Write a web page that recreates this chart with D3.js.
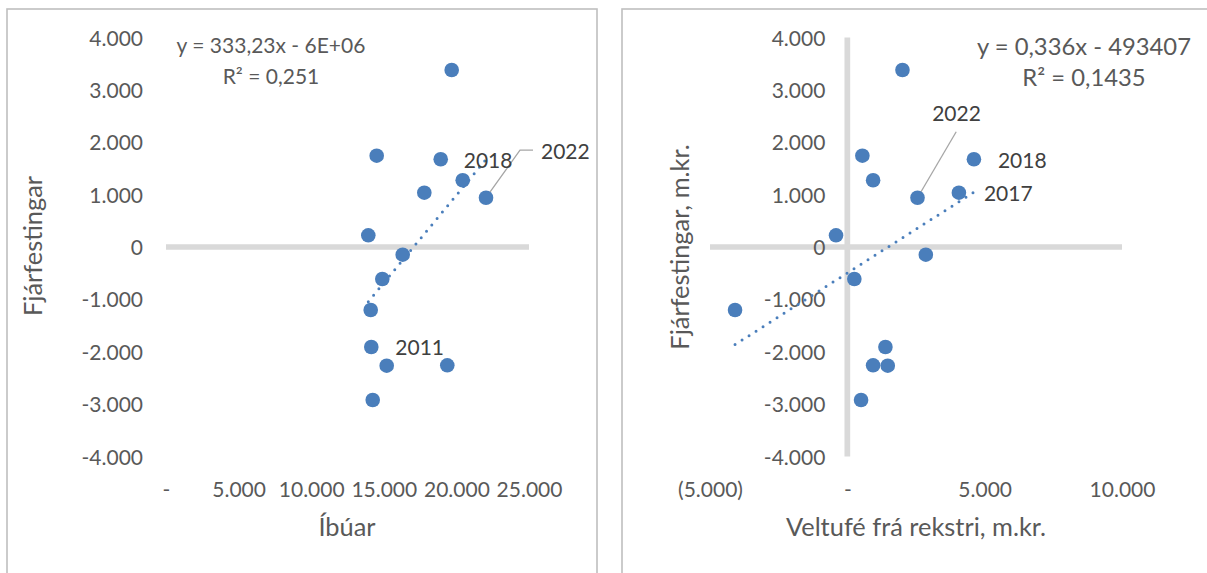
<!DOCTYPE html>
<html>
<head>
<meta charset="utf-8">
<script src="https://cdn.jsdelivr.net/npm/d3@7/dist/d3.min.js"></script>
<style>
  html, body { margin: 0; padding: 0; background: #fff; }
  svg { display: block; font-family: Lato, "Open Sans", sans-serif; }
</style>
</head>
<body>
<svg id="chart" width="1207" height="573"></svg>
<script>
// ---------- DATA ----------
const pointLabels   = ["", "", "2018", "", "2017", "2022", "", "", "", "", "2011", "", "", ""];
const ibuar         = [19676, 14511, 18919, 20434, 17789, 22039, 13933, 16302, 14897, 14098, 14139, 15200, 19373, 14236];
const veltufe       = [2007, 547, 4609, 938, 4062, 2555, -412, 2858, 255, -4088, 1387, 1471, 938, 500];
const fjarfestingar = [3380, 1743, 1675, 1274, 1037, 941, 223, -147, -611, -1203, -1909, -2266, -2259, -2921];

const yTickValues = [4000, 3000, 2000, 1000, 0, -1000, -2000, -3000, -4000];
const yTickLabels = ["4.000", "3.000", "2.000", "1.000", "0", "-1.000", "-2.000", "-3.000", "-4.000"];
const xTickValuesLeft = [0, 5000, 10000, 15000, 20000, 25000];
const xTickLabelsLeft = ["-", "5.000", "10.000", "15.000", "20.000", "25.000"];
const xTickValuesRight = [-5000, 0, 5000, 10000];
const xTickLabelsRight = ["(5.000)", "-", "5.000", "10.000"];

const leftEquation  = ["y = 333,23x - 6E+06", "R² = 0,251"];
const rightEquation = ["y = 0,336x - 493407", "R² = 0,1435"];

// ---------- STYLE ----------
const BLUE = "#4A7EBB";
const AXIS_GREY = "#D9D9D9";
const TEXT = "#595959";
const LABEL_TEXT = "#404040";

const svg = d3.select("#chart");

function regression(xs, ys) {
  const n = xs.length;
  const mx = d3.mean(xs), my = d3.mean(ys);
  let sxy = 0, sxx = 0;
  for (let i = 0; i < n; i++) { sxy += (xs[i]-mx)*(ys[i]-my); sxx += (xs[i]-mx)**2; }
  const b = sxy / sxx;
  return { slope: b, intercept: my - b*mx };
}

function drawChart(cfg) {
  const g = svg.append("g");
  // panel frame
  g.append("rect")
    .attr("x", cfg.frame[0]).attr("y", cfg.frame[1])
    .attr("width", cfg.frame[2]).attr("height", cfg.frame[3])
    .attr("fill", "none").attr("stroke", "#BFBFBF").attr("stroke-width", 1.6);

  const x = d3.scaleLinear().domain(cfg.xDomain).range(cfg.xRange);
  const y = d3.scaleLinear().domain([-4000, 4000]).range([456.5, 37.5]);

  // horizontal zero line
  g.append("line")
    .attr("x1", x(cfg.xDomain[0])).attr("x2", x(cfg.xDomain[1]))
    .attr("y1", y(0)).attr("y2", y(0))
    .attr("stroke", AXIS_GREY).attr("stroke-width", 5.7);
  // vertical zero line
  if (cfg.vLine) {
    g.append("line")
      .attr("x1", x(0)).attr("x2", x(0))
      .attr("y1", y(4000)).attr("y2", y(-4000))
      .attr("stroke", AXIS_GREY).attr("stroke-width", 5.7);
  }

  // y axis labels
  const yAxis = d3.axisLeft(y).tickValues(yTickValues)
    .tickFormat((d, i) => yTickLabels[i]).tickSize(0).tickPadding(cfg.yPad);
  const ya = g.append("g").attr("transform", `translate(${x(0)},0)`).call(yAxis);
  ya.select(".domain").remove();
  ya.selectAll("text").attr("fill", TEXT).style("font-size", "21px")
    .style("font-family", "Lato").attr("dy", "0.36em");

  // x axis labels
  const xAxis = d3.axisBottom(x).tickValues(cfg.xTickValues)
    .tickFormat((d, i) => cfg.xTickLabels[i]).tickSize(0).tickPadding(0);
  const xa = g.append("g").attr("transform", `translate(0,489)`).call(xAxis);
  xa.select(".domain").remove();
  xa.selectAll("text").attr("fill", TEXT).style("font-size", "21px")
    .style("font-family", "Lato").attr("y", 0).attr("dy", "0.36em");

  // axis titles
  g.append("text").attr("x", cfg.xTitlePos[0]).attr("y", cfg.xTitlePos[1])
    .attr("dy", "0.36em").attr("text-anchor", "middle")
    .attr("fill", TEXT).style("font-size", "25.4px").text(cfg.xTitle);
  g.append("text")
    .attr("transform", `translate(${cfg.yTitlePos[0]},${cfg.yTitlePos[1]}) rotate(-90)`)
    .attr("dy", "0.36em").attr("text-anchor", "middle")
    .attr("fill", TEXT).style("font-size", "25.4px").text(cfg.yTitle);

  // trendline
  const reg = regression(cfg.xs, cfg.ys);
  const x0 = d3.min(cfg.xs), x1 = d3.max(cfg.xs);
  g.append("line")
    .attr("x1", x(x0)).attr("y1", y(reg.intercept + reg.slope*x0))
    .attr("x2", x(x1)).attr("y2", y(reg.intercept + reg.slope*x1))
    .attr("stroke", BLUE).attr("stroke-width", 3)
    .attr("stroke-linecap", "round").attr("stroke-dasharray", "0 8.3");

  // leader lines
  cfg.leaders.forEach(L => {
    const i = pointLabels.indexOf(L.label);
    const px = x(cfg.xs[i]), py = y(cfg.ys[i]);
    const pts = [[px, py]].concat(L.path.map(p => [px + p[0], py + p[1]]));
    g.append("path").attr("d", d3.line()(pts))
      .attr("fill", "none").attr("stroke", "#A6A6A6").attr("stroke-width", 1.3);
  });

  // points
  g.selectAll("circle.pt").data(cfg.xs.map((v, i) => i)).join("circle")
    .attr("class", "pt")
    .attr("cx", i => x(cfg.xs[i])).attr("cy", i => y(cfg.ys[i]))
    .attr("r", 7.3).attr("fill", BLUE);

  // data labels
  Object.entries(cfg.labelOffsets).forEach(([lab, off]) => {
    const i = pointLabels.indexOf(lab);
    g.append("text")
      .attr("x", x(cfg.xs[i]) + off[0]).attr("y", y(cfg.ys[i]) + off[1])
      .attr("dy", "0.36em").attr("text-anchor", off[2] || "start")
      .attr("fill", LABEL_TEXT).style("font-size", "21px").text(lab);
  });

  // equation
  cfg.equation.forEach((t, k) => {
    g.append("text").attr("x", cfg.eqPos[0]).attr("y", cfg.eqPos[1] + k*cfg.eqGap)
      .attr("dy", "0.36em").attr("text-anchor", "middle")
      .attr("fill", TEXT).style("font-size", cfg.eqSize).text(t);
  });
}

drawChart({
  frame: [7, 9, 590, 600],
  xDomain: [0, 25000], xRange: [166, 529],
  xTickValues: xTickValuesLeft, xTickLabels: xTickLabelsLeft,
  yPad: 23, vLine: false,
  xs: ibuar, ys: fjarfestingar,
  xTitle: "Íbúar", xTitlePos: [347, 527],
  yTitle: "Fjárfestingar", yTitlePos: [33, 246],
  labelOffsets: { "2018": [23, 0.7], "2022": [55, -46.5], "2011": [24, 0.5] },
  leaders: [{ label: "2022", path: [[34, -47.5], [47, -47.5]] }],
  equation: leftEquation, eqPos: [271, 45.5], eqGap: 30.5, eqSize: "21px"
});

drawChart({
  frame: [622, 9, 600, 600],
  xDomain: [-5000, 10000], xRange: [710, 1122],
  xTickValues: xTickValuesRight, xTickLabels: xTickLabelsRight,
  yPad: 22, vLine: true,
  xs: veltufe, ys: fjarfestingar,
  xTitle: "Veltufé frá rekstri, m.kr.", xTitlePos: [916, 527],
  yTitle: "Fjárfestingar, m.kr.", yTitlePos: [680, 247],
  labelOffsets: { "2018": [24, 0.7], "2017": [25, 0.3], "2022": [39, -84.7, "middle"] },
  leaders: [{ label: "2022", path: [[38.7, -66]] }],
  equation: rightEquation, eqPos: [1084, 46], eqGap: 31.5, eqSize: "23.8px"
});
</script>
</body>
</html>
